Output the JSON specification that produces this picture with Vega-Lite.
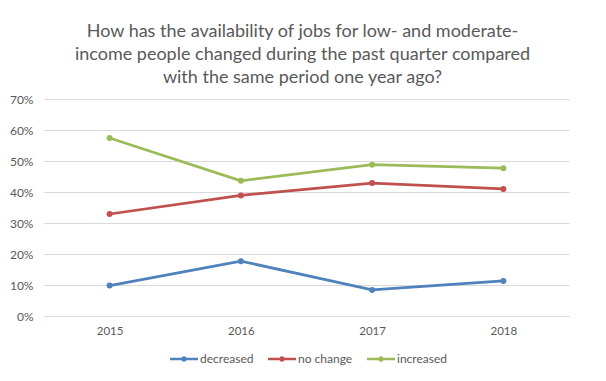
{
  "$schema": "https://vega.github.io/schema/vega-lite/v6.json",
  "autosize": "none",
  "width": 525,
  "height": 217,
  "padding": {"left": 44, "top": 99, "right": 37, "bottom": 65},
  "background": "white",
  "title": {
    "text": ["How has the availability of jobs for low- and moderate-", "income people changed during the past quarter compared", "with the same period one year ago?"],
    "anchor": "middle",
    "dx": -4,
    "fontSize": 18,
    "font": "Lato",
    "fontWeight": "normal",
    "color": "#595959",
    "lineHeight": 23,
    "offset": 6
  },
  "data": {
    "values": [
      {"year": "2015", "series": "decreased", "value": 0.098},
      {"year": "2016", "series": "decreased", "value": 0.177},
      {"year": "2017", "series": "decreased", "value": 0.084},
      {"year": "2018", "series": "decreased", "value": 0.113},
      {"year": "2015", "series": "no change", "value": 0.329},
      {"year": "2016", "series": "no change", "value": 0.389},
      {"year": "2017", "series": "no change", "value": 0.429},
      {"year": "2018", "series": "no change", "value": 0.410},
      {"year": "2015", "series": "increased", "value": 0.574},
      {"year": "2016", "series": "increased", "value": 0.436},
      {"year": "2017", "series": "increased", "value": 0.488},
      {"year": "2018", "series": "increased", "value": 0.477}
    ]
  },
  "mark": {"type": "line", "strokeWidth": 2.75, "point": {"filled": true, "size": 36}},
  "encoding": {
    "x": {
      "field": "year",
      "type": "ordinal",
      "scale": {"paddingInner": 0, "paddingOuter": 0},
      "axis": {
        "title": null,
        "labelAngle": 0,
        "ticks": false,
        "domainColor": "#d9d9d9",
        "labelColor": "#595959",
        "labelFont": "Lato",
        "labelFontSize": 11.5,
        "labelPadding": 9
      }
    },
    "y": {
      "field": "value",
      "type": "quantitative",
      "scale": {"domain": [0, 0.7]},
      "axis": {
        "title": null,
        "values": [0, 0.1, 0.2, 0.3, 0.4, 0.5, 0.6, 0.7],
        "format": ".0%",
        "domain": false,
        "ticks": false,
        "gridColor": "#d9d9d9",
        "labelColor": "#595959",
        "labelFont": "Lato",
        "labelFontSize": 12,
        "labelPadding": 11
      }
    },
    "color": {
      "field": "series",
      "type": "nominal",
      "sort": ["decreased", "no change", "increased"],
      "scale": {"domain": ["decreased", "no change", "increased"], "range": ["#4F81BD", "#C0504D", "#9BBB59"]},
      "legend": {
        "title": null,
        "orient": "none",
        "legendX": 126,
        "legendY": 246,
        "direction": "horizontal",
        "symbolType": "M-1,-0.09L1,-0.09L1,0.09L-1,0.09Z M0.2,0A0.2,0.2 0 1,1 -0.2,0A0.2,0.2 0 1,1 0.2,0Z",
        "symbolSize": 784,
        "symbolStrokeWidth": 0,
        "labelFont": "Lato",
        "labelFontSize": 12,
        "labelColor": "#595959",
        "labelOffset": 2,
        "columnPadding": 14,
        "encode": {"symbols": {"update": {"fill": {"scale": "color", "field": "value"}}}}
      }
    }
  },
  "config": {"view": {"stroke": null}}
}
